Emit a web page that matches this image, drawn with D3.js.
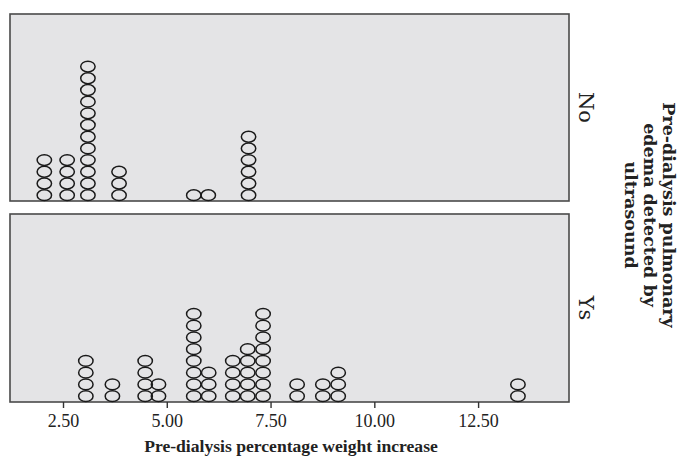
<!DOCTYPE html>
<html>
<head>
<meta charset="utf-8">
<script src="https://cdn.jsdelivr.net/npm/d3@7"></script>
<style>
  body { margin: 0; background: #fff; }
  text { font-family: "Liberation Serif", "DejaVu Serif", serif; fill: #222; }
</style>
</head>
<body>
<div id="root"></div>
<script>
// Panels (rows) and the dots stacked in each column
const panels = ["No", "Ys"];
const noValues = [2.05, 2.6, 3.1, 3.85, 5.65, 6.0, 6.97];
const noCounts = [4, 4, 12, 3, 1, 1, 6];
const ysValues = [3.05, 3.69, 4.48, 4.8, 5.65, 6.01, 6.59, 6.95, 7.32, 8.14, 8.76, 9.13, 13.46];
const ysCounts = [4, 2, 4, 2, 8, 3, 4, 5, 8, 2, 2, 3, 2];
const xTicks = [2.5, 5, 7.5, 10, 12.5];
const xTitle = "Pre-dialysis percentage weight increase";
const rowTitle = ["Pre-dialysis pulmonary", "edema detected by", "ultrasound"];

const w = 682;
const h = 463;
const left = 10, right = 569;
const panelBox = [
  { top: 14, bottom: 201 },
  { top: 214, bottom: 402 }
];

const svg = d3.select("#root")
  .append("svg")
  .attr("width", w)
  .attr("height", h);

const x = d3.scaleLinear()
  .domain([1.223, 14.69])
  .range([left, right]);

const groups = [
  { name: panels[0], values: noValues, counts: noCounts },
  { name: panels[1], values: ysValues, counts: ysCounts }
];

groups.forEach((g, i) => {
  const box = panelBox[i];
  // stack height: one dot per unit
  const y = d3.scaleLinear()
    .domain([0, 16])
    .range([box.bottom, box.top]);

  svg.append("rect")
    .attr("x", left)
    .attr("y", box.top)
    .attr("width", right - left)
    .attr("height", box.bottom - box.top)
    .attr("fill", "#e4e4e6")
    .attr("stroke", "#4a4a4a")
    .attr("stroke-width", 1.6);

  const dots = [];
  g.values.forEach((v, j) => {
    d3.range(g.counts[j]).forEach(k => dots.push({ v, k }));
  });

  svg.append("g")
    .selectAll("ellipse")
    .data(dots)
    .enter()
    .append("ellipse")
    .attr("cx", d => x(d.v))
    .attr("cy", d => y(d.k + 0.5))
    .attr("rx", 7.2)
    .attr("ry", (y(0) - y(1)) / 2 - 0.4)
    .attr("fill", "none")
    .attr("stroke", "#1a1a1a")
    .attr("stroke-width", 1.5);

  svg.append("text")
    .attr("transform", `translate(586, ${(box.top + box.bottom) / 2}) rotate(90)`)
    .attr("text-anchor", "middle")
    .attr("dy", "0.35em")
    .style("font-family", "'DejaVu Serif', serif")
    .style("font-size", "21px")
    .text(g.name);
});

// x axis under the lower panel
const axis = d3.axisBottom(x)
  .tickValues(xTicks)
  .tickFormat(d3.format(".2f"))
  .tickSize(6)
  .tickSizeOuter(0);

const axisG = svg.append("g")
  .attr("transform", `translate(0, ${panelBox[1].bottom})`)
  .call(axis);
axisG.select(".domain").remove();
axisG.selectAll(".tick line").attr("stroke", "#333").attr("stroke-width", 1.4);
axisG.selectAll(".tick text")
  .attr("y", 12)
  .style("font-size", "18px")
  .style("font-family", "'Liberation Serif', serif")
  .attr("fill", "#222");

svg.append("text")
  .attr("x", 291)
  .attr("y", 452)
  .attr("text-anchor", "middle")
  .style("font-size", "17.6px")
  .style("font-weight", "bold")
  .text(xTitle);

// row title, rotated on the right
rowTitle.forEach((line, i) => {
  svg.append("text")
    .attr("transform", `translate(${669 - i * 19}, 215) rotate(90)`)
    .attr("text-anchor", "middle")
    .attr("dy", "0.35em")
    .style("font-family", "'DejaVu Serif', serif")
    .style("font-size", "17.5px")
    .style("font-weight", "bold")
    .text(line);
});
</script>
</body>
</html>
